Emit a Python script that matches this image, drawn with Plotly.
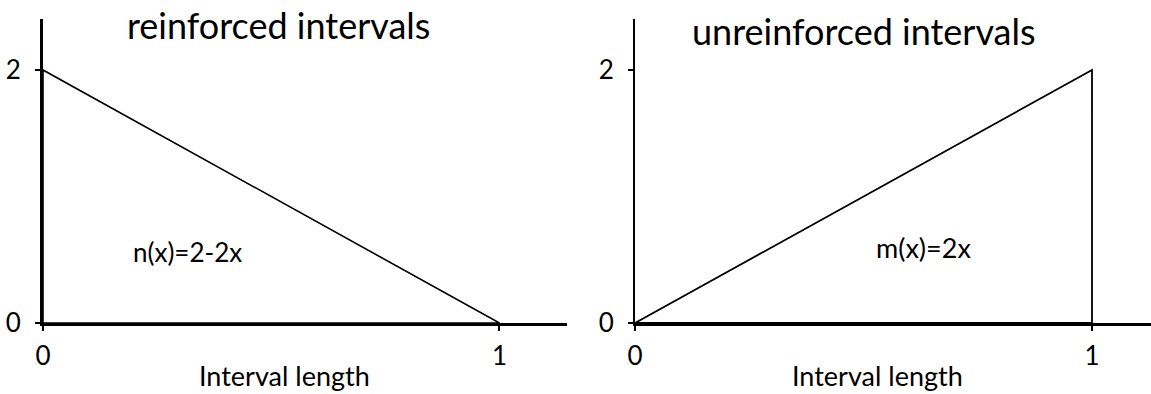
import plotly.graph_objects as go

# ---- data ----
x_points = [0, 1]
n_values = [2, 0]      # n(x) = 2 - 2x  (reinforced)
m_values = [0, 2]      # m(x) = 2x      (unreinforced)
x_ticks = [0, 1]
y_ticks = [0, 2]
titles = ["reinforced intervals", "unreinforced intervals"]
labels = ["n(x)=2-2x", "m(x)=2x"]
x_title = "Interval length"

W, H = 1151, 394
FONT = "Lato"

fig = go.Figure()

# left triangle: vertical edge at x=0, hypotenuse, bottom edge
fig.add_trace(go.Scatter(
    x=[x_points[0], x_points[0], x_points[1], x_points[0]],
    y=[0, n_values[0], n_values[1], 0],
    mode="lines", line=dict(color="black", width=1.6),
    xaxis="x", yaxis="y", showlegend=False, hoverinfo="skip"))

# right triangle: hypotenuse, vertical edge at x=1, bottom edge
fig.add_trace(go.Scatter(
    x=[x_points[0], x_points[1], x_points[1], x_points[0]],
    y=[m_values[0], m_values[1], 0, 0],
    mode="lines", line=dict(color="black", width=1.8),
    xaxis="x2", yaxis="y2", showlegend=False, hoverinfo="skip"))

tickfont = dict(family=FONT, size=26, color="black")

def xax(domain, rng):
    return dict(domain=domain, range=rng, showline=True, linecolor="black",
                linewidth=3, showgrid=False, zeroline=False, automargin=False,
                tickmode="array", tickvals=x_ticks, ticktext=[str(v) for v in x_ticks],
                ticks="outside", ticklen=5, tickwidth=2, tickcolor="black",
                tickfont=tickfont, ticklabelstandoff=3, fixedrange=True)

def yax(domain, rng, anchor, lw):
    return dict(domain=domain, range=rng, anchor=anchor, showline=True,
                linecolor="black", linewidth=lw, showgrid=False, zeroline=False,
                automargin=False,
                tickmode="array", tickvals=y_ticks, ticktext=[str(v) for v in y_ticks],
                ticks="outside", ticklen=5, tickwidth=2, tickcolor="black",
                tickfont=tickfont, ticklabelstandoff=9, fixedrange=True)

ydom = [(H - 323) / H, (H - 19) / H]
yrng = [0, 2.403]

fig.update_layout(
    template="none",
    width=W, height=H,
    margin=dict(l=0, r=0, t=0, b=0, pad=0),
    paper_bgcolor="white", plot_bgcolor="white",
    xaxis=xax([43 / W, 567 / W], [0, 1.148]) | dict(anchor="y"),
    yaxis=yax(ydom, yrng, "x", 3),
    xaxis2=xax([635 / W, 1.0], [0, (W - 635) / 457.0]) | dict(anchor="y2"),
    yaxis2=yax(ydom, yrng, "x2", 2),
    font=dict(family=FONT, color="black"),
    showlegend=False,
)

ann = []
# panel titles
ann.append(dict(text=titles[0], xref="paper", yref="paper", x=278 / W, y=(H - 25) / H,
                xanchor="center", yanchor="middle", showarrow=False,
                font=dict(family=FONT, size=36, color="black")))
ann.append(dict(text=titles[1], xref="paper", yref="paper", x=864 / W, y=(H - 31) / H,
                xanchor="center", yanchor="middle", showarrow=False,
                font=dict(family=FONT, size=36, color="black")))
# axis titles
for cx in (284, 877):
    ann.append(dict(text=x_title, xref="paper", yref="paper", x=cx / W, y=(H - 375) / H,
                    xanchor="center", yanchor="middle", showarrow=False,
                    font=dict(family=FONT, size=27, color="black")))
# function labels
ann.append(dict(text=labels[0], xref="x", yref="y", x=0.3155, y=0.561,
                xanchor="center", yanchor="middle", showarrow=False,
                font=dict(family=FONT, size=26, color="black")))
ann.append(dict(text=labels[1], xref="x2", yref="y2", x=0.632, y=0.593,
                xanchor="center", yanchor="middle", showarrow=False,
                font=dict(family=FONT, size=27, color="black")))
fig.update_layout(annotations=ann)

fig.write_html("out.html", config={"displayModeBar": False, "responsive": False},
               post_script="document.body.style.margin='0';document.body.style.overflow='hidden';")
